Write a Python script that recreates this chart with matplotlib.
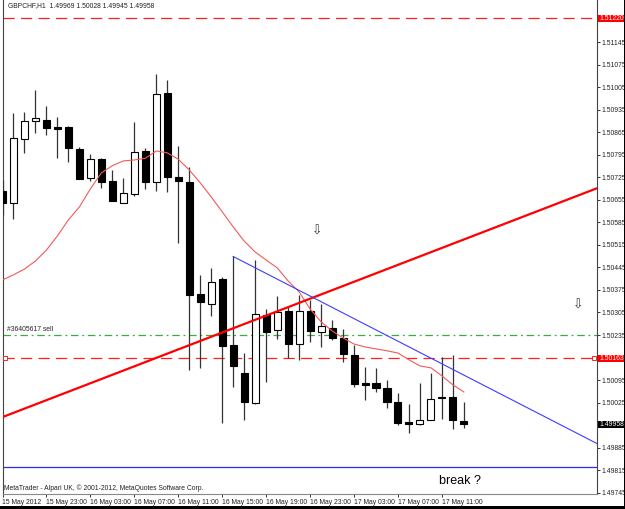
import matplotlib
matplotlib.use('Agg')
import matplotlib.pyplot as plt
import matplotlib.transforms as mtransforms
from matplotlib.patches import Rectangle

# GBPCHF H1, bars from 15 May 19:00 to 17 May 13:00
opens = [1.50681, 1.50646, 1.50844, 1.50900, 1.50904, 1.50881, 1.50881, 1.50812, 1.50722, 1.50782,
         1.50715, 1.50646, 1.50673, 1.50806, 1.50712, 1.50988, 1.50727, 1.50711, 1.50363, 1.50331,
         1.50408, 1.50203, 1.50118, 1.50023, 1.50297, 1.50250, 1.50310, 1.50206, 1.50310, 1.50244,
         1.50256, 1.50227, 1.50173, 1.50087, 1.50085, 1.50071, 1.50026, 1.49966, 1.49958, 1.49971,
         1.50041, 1.50042, 1.49969]
highs = [1.50717, 1.50926, 1.50929, 1.50997, 1.50948, 1.50914, 1.50883, 1.50819, 1.50797, 1.50784,
         1.50748, 1.50722, 1.50896, 1.50816, 1.51046, 1.51026, 1.50823, 1.50756, 1.50422, 1.50443,
         1.50416, 1.50479, 1.50180, 1.50468, 1.50315, 1.50356, 1.50323, 1.50360, 1.50344, 1.50332,
         1.50282, 1.50253, 1.50204, 1.50137, 1.50134, 1.50095, 1.50054, 1.50021, 1.50085, 1.50116,
         1.50168, 1.50173, 1.50028]
lows = [1.50608, 1.50595, 1.50802, 1.50862, 1.50855, 1.50786, 1.50774, 1.50719, 1.50715, 1.50691,
        1.50650, 1.50645, 1.50667, 1.50689, 1.50683, 1.50678, 1.50522, 1.50126, 1.50132, 1.50294,
        1.49963, 1.50073, 1.49971, 1.50022, 1.50090, 1.50222, 1.50163, 1.50158, 1.50214, 1.50197,
        1.50220, 1.50151, 1.50075, 1.50033, 1.50057, 1.50007, 1.49956, 1.49930, 1.49956, 1.49970,
        1.49973, 1.49942, 1.49945]
closes = [1.50646, 1.50847, 1.50900, 1.50909, 1.50878, 1.50876, 1.50816, 1.50720, 1.50782, 1.50712,
          1.50652, 1.50676, 1.50804, 1.50710, 1.50983, 1.50727, 1.50714, 1.50360, 1.50338, 1.50401,
          1.50201, 1.50140, 1.50027, 1.50301, 1.50245, 1.50308, 1.50206, 1.50310, 1.50246, 1.50263,
          1.50225, 1.50175, 1.50082, 1.50079, 1.50071, 1.50028, 1.49963, 1.49959, 1.49971, 1.50037,
          1.50038, 1.49971, 1.49958]

# moving average
ma = [1.50406, 1.50422, 1.50440, 1.50465, 1.50499, 1.50543, 1.50593, 1.50633, 1.50689, 1.50739,
      1.50761, 1.50776, 1.50779, 1.50784, 1.50807, 1.50801, 1.50781, 1.50748, 1.50708, 1.50664,
      1.50618, 1.50571, 1.50527, 1.50493, 1.50468, 1.50444, 1.50403, 1.50369, 1.50316, 1.50276,
      1.50248, 1.50226, 1.50207, 1.50198, 1.50192, 1.50186, 1.50179, 1.50158, 1.50139, 1.50133,
      1.50108, 1.50080, 1.50058]

# trend lines (bar index, price)
red_trend = [(0, 1.49980), (50, 1.50637)]
blue_trend = [(21, 1.50479), (50, 1.49970)]

# horizontal levels
top_level = 1.51220
sl_level = 1.50163
order_level = 1.50236
blue_level = 1.49826
bid_price = 1.49958

# sell arrows
arrow_x = [28.66, 52.4]
arrow_y = [1.50559, 1.50329]

price_ticks = [1.51145, 1.51075, 1.51005, 1.50935, 1.50865, 1.50795, 1.50725, 1.50655, 1.50585,
               1.50515, 1.50445, 1.50375, 1.50305, 1.50235, 1.50095, 1.50025, 1.49885, 1.49815,
               1.49745]
date_pos = [0, 4, 8, 12, 16, 20, 24, 28, 32, 36, 40]
date_labels = ['15 May 2012', '15 May 23:00', '16 May 03:00', '16 May 07:00', '16 May 11:00',
               '16 May 15:00', '16 May 19:00', '16 May 23:00', '17 May 03:00', '17 May 07:00',
               '17 May 11:00']

small = ['Liberation Sans', 'DejaVu Sans']
fs = 4.9

fig = plt.figure(figsize=(6.25, 5.09), dpi=100)
ax = fig.add_axes([2.5 / 625, 15 / 509, 594.2 / 625, 494 / 509])
ax.set_xlim(0.073, 54.09)
ax.set_ylim(1.49741, 1.51276)

# candles
for i in range(len(opens)):
    o, h, l, c = opens[i], highs[i], lows[i], closes[i]
    ax.vlines(i, l, h, color='#333333', lw=0.9, zorder=3)
    face = 'white' if c > o else 'black'
    ax.add_patch(Rectangle((i - 0.32, min(o, c)), 0.64, abs(c - o), facecolor=face,
                           edgecolor='black', lw=0.8, zorder=4))

ax.plot(range(len(ma)), ma, color='#f25a5a', lw=0.8, zorder=5)

ax.axline(red_trend[0], red_trend[1], color='#ff0000', lw=1.6, zorder=6)
# blue trend starts at bar 21 and runs to the right edge
bx = [blue_trend[0][0], 54.09]
slope = (blue_trend[1][1] - blue_trend[0][1]) / (blue_trend[1][0] - blue_trend[0][0])
ax.plot(bx, [blue_trend[0][1], blue_trend[0][1] + slope * (bx[1] - bx[0])], color='#3c3cff', lw=0.8, zorder=6)

ax.axhline(top_level, color='#ff2020', lw=0.9, dashes=(9, 5), zorder=2)
ax.axhline(sl_level, color='#ff2020', lw=0.9, dashes=(9, 5), zorder=2)
ax.axhline(order_level, color='#3faa3f', lw=0.9, dashes=(6, 3, 1.5, 3), zorder=2)
ax.axhline(blue_level, color='#2a2aff', lw=0.9, zorder=2)
ax.plot([0.2, 53.85], [sl_level, sl_level], ls='none', marker='s', ms=3, mfc='white',
        mec='#ff2020', mew=0.7, zorder=3)

for x, y in zip(arrow_x, arrow_y):
    ax.text(x, y, '\u21e9', fontsize=9, color='#333333', ha='center', va='center', family='DejaVu Sans')

ax.text(0.009, 0.995, 'GBPCHF,H1  1.49969 1.50028 1.49945 1.49958', transform=ax.transAxes,
        fontsize=fs, va='top', ha='left', family=small, color='#222222')
ax.text(0.007, order_level + 0.00005, '#36405617 sell',
        transform=mtransforms.blended_transform_factory(ax.transAxes, ax.transData),
        fontsize=fs, va='bottom', ha='left', family=small, color='#222222')
ax.text(39.7, 1.49781, 'break ?', fontsize=9, va='center', ha='left', family=['Liberation Sans', 'DejaVu Sans'])
ax.text(0.002, 0.004, 'MetaTrader - Alpari UK, \u00a9 2001-2012, MetaQuotes Software Corp.', transform=ax.transAxes,
        fontsize=fs, va='bottom', ha='left', family=small, color='#222222')

# price scale
ax.yaxis.tick_right()
ax.set_yticks(price_ticks)
ax.set_yticklabels(['%.5f' % p for p in price_ticks], fontsize=fs, family=small, color='#222222')
ax.tick_params(axis='y', length=2.5, width=0.7, pad=1, colors='#333333')
ax.set_xticks(date_pos)
ax.set_xticklabels(date_labels, fontsize=fs, family=small, ha='left', color='#222222')
ax.tick_params(axis='x', length=2, width=0.7, pad=1.5, colors='#333333')
for lbl in ax.get_xticklabels():
    lbl.set_color('#222222')
for lbl in ax.get_yticklabels():
    lbl.set_color('#222222')

for sp in ['left', 'right']:
    ax.spines[sp].set_color('#444444')
    ax.spines[sp].set_linewidth(0.8)
ax.spines['top'].set_visible(False)
ax.spines['bottom'].set_color('#888888')
ax.spines['bottom'].set_linestyle((0, (1, 1)))
ax.spines['bottom'].set_linewidth(0.8)

# highlighted price labels
tr = mtransforms.blended_transform_factory(fig.transFigure, ax.transData)
box_h = 7 / 32171
for level, col in [(top_level, '#ff0000'), (sl_level, '#ff0000'), (bid_price, '#000000')]:
    fig.add_artist(Rectangle((597.5 / 625, level - box_h / 2), 26.5 / 625, box_h, transform=tr,
                             facecolor=col, edgecolor='none', clip_on=False))
    fig.text(599.5 / 625, level, '%.5f' % level, transform=tr, fontsize=fs, family=small,
             color='white', va='center', ha='left')

# screenshot frame
fig.add_artist(Rectangle((0, 0), 1, 3.5 / 509, transform=fig.transFigure, facecolor='black', edgecolor='none'))
fig.add_artist(Rectangle((623.5 / 625, 0), 1.5 / 625, 1, transform=fig.transFigure, facecolor='black', edgecolor='none'))

fig.savefig('out.png', dpi=100)
